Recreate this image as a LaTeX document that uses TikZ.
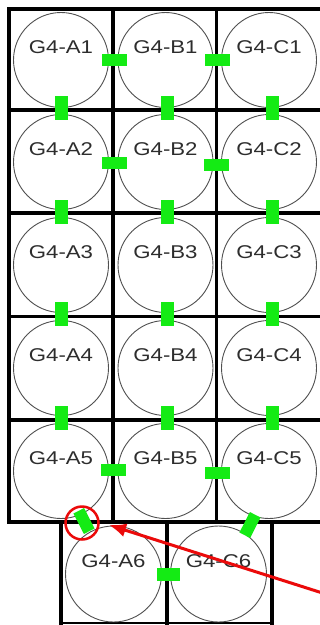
\documentclass[tikz,border=0pt]{standalone}
\usepackage{fontspec}
\setmainfont{Liberation Sans}
\usetikzlibrary{arrows.meta}
\definecolor{conngreen}{RGB}{20,235,20}
\definecolor{circgray}{RGB}{80,80,80}
\definecolor{txtgray}{RGB}{45,45,45}
\definecolor{markred}{RGB}{235,10,10}
\begin{document}
\begin{tikzpicture}[x=1pt,y=-1pt,
  gridline/.style={line width=3.5pt,black},
  well/.style={circle,draw=circgray,line width=0.9pt,minimum size=95pt,inner sep=0pt},
  welllabel/.style={font=\fontsize{18.5}{20}\selectfont,text=txtgray,inner sep=0pt},
  hconn/.style={fill=conngreen,minimum width=25pt,minimum height=12pt,inner sep=0pt},
  vconn/.style={fill=conngreen,minimum width=13pt,minimum height=24pt,inner sep=0pt},
  dconn/.style={fill=conngreen,minimum width=12pt,minimum height=23pt,inner sep=0pt},
  ring/.style={circle,draw=markred,line width=2.5pt,minimum size=33pt,inner sep=0pt},
  pointer/.style={draw=markred,line width=3pt,-{Latex[length=17pt,width=14pt]}}
]
\useasboundingbox (0,0) rectangle (320,625);
\fill[white] (0,0) rectangle (320,625);
% upper grid
\foreach \yy in {9,110,213,316.5,420,522}
  \draw[gridline] (7.25,\yy) -- (325,\yy);
\foreach \xx in {9,113,216.5}
  \draw[gridline] (\xx,7.25) -- (\xx,523.75);
% bottom row cells
\draw[gridline] (61,522) -- (61,625);
\draw[gridline] (167,522) -- (167,625);
\draw[gridline] (272,522) -- (272,625);
\draw[line width=2pt] (61,623) -- (272,623);
% wells
\foreach \c/\xx in {A/61,B/165.5,C/269}{
  \foreach \r/\yy in {1/60,2/162,3/265,4/368,5/471}{
    \node[well] (\c\r) at (\xx,\yy) {};
    \node[welllabel] (L\c\r) at (\xx,\yy-12.5) {\scalebox{1.2}[1]{G4-\c\r}};
  }
}
\node[well,minimum size=96pt] (A6) at (113.5,574) {};
\node[welllabel] (LA6) at (113.5,561.5) {\scalebox{1.2}[1]{G4-A6}};
\node[well,minimum size=96pt] (C6) at (218.5,574) {};
% horizontal connectors
\node[hconn] (hA1) at (114,60) {};
\node[hconn] (hB1) at (217,60) {};
\node[hconn] (hA2) at (114,163) {};
\node[hconn] (hB2) at (216.5,165) {};
\node[hconn] (hA5) at (113,470) {};
\node[hconn] (hB5) at (217.5,473) {};
\node[hconn,minimum width=23pt,minimum height=13pt] (hA6) at (168.5,574.5) {};
% vertical connectors
\foreach \c/\xx in {A/61.5,B/167,C/272}{
  \foreach \r/\yy in {1/108,2/212,3/314,4/418}{
    \node[vconn] (v\c\r) at (\xx,\yy) {};
  }
}
% diagonal connectors
\node[dconn,rotate=27] (dA5) at (84,521) {};
\node[dconn,rotate=-27] (dC5) at (250,525) {};
\node[welllabel] (LC6) at (218.5,561.5) {\scalebox{1.2}[1]{G4-C6}};
% red marking
\node[ring] (mark) at (82,523) {};
\coordinate (tail) at (335,597);
\coordinate (tip) at (109,525);
\draw[pointer] (tail) -- (tip);
\end{tikzpicture}
\end{document}
